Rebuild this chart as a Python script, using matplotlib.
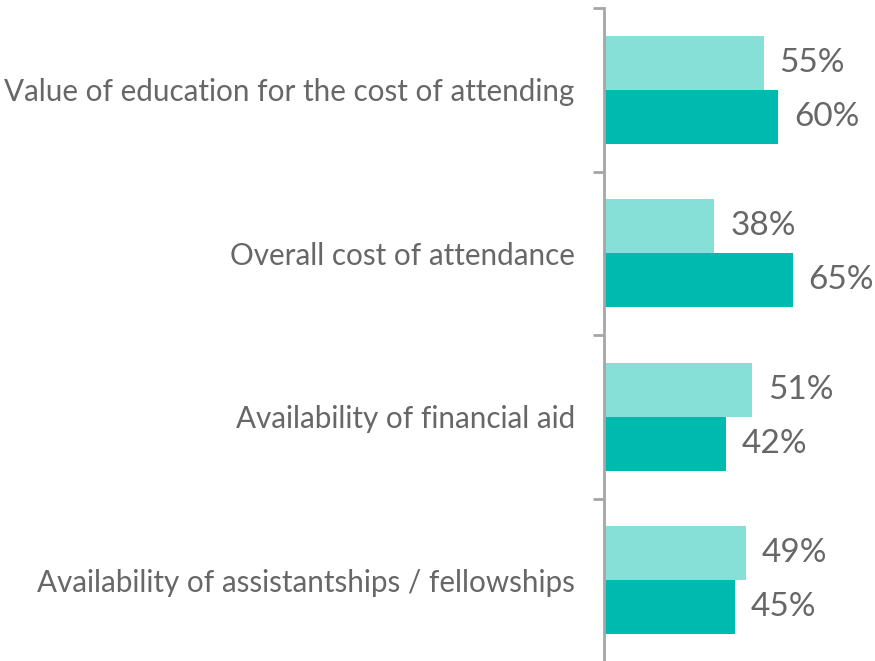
import numpy as np
import matplotlib.pyplot as plt

categories = [
    "Value of education for the cost of attending",
    "Overall cost of attendance",
    "Availability of financial aid",
    "Availability of assistantships / fellowships",
]
series_light = [55, 38, 51, 49]
series_dark = [60, 65, 42, 45]

light_color = "#86E0D8"
dark_color = "#00BAB0"
text_color = "#676767"
axis_color = "#A6A6A6"

plt.rcParams['font.family'] = ['Lato', 'DejaVu Sans']

fig = plt.figure(figsize=(8.75, 6.61), dpi=100)
ax = fig.add_axes([604 / 875, -1 / 661, 1 - 604 / 875, 654 / 661])

n = len(categories)
y = np.arange(n)
h = 0.33

ax.barh(y - h / 2, series_light, height=h, color=light_color, edgecolor="none")
ax.barh(y + h / 2, series_dark, height=h, color=dark_color, edgecolor="none")

for yi, v in zip(y - h / 2, series_light):
    ax.text(v + 5.5, yi, f"{v}%", va="center", ha="left", fontsize=24, color=text_color)
for yi, v in zip(y + h / 2, series_dark):
    ax.text(v + 5.5, yi, f"{v}%", va="center", ha="left", fontsize=24, color=text_color)

ax.set_xlim(0, 93.4)
ax.set_ylim(n - 0.5, -0.5)

# category labels sit between boundary ticks
ax.set_yticks(y)
ax.set_yticklabels(categories, fontsize=21.3, color=text_color)
ax.tick_params(axis="y", length=0, pad=21)
ax.set_yticks(np.arange(n + 1) - 0.5, minor=True)
ax.tick_params(axis="y", which="minor", length=8, width=2, color=axis_color)

ax.set_xticks([])
for s in ["top", "right", "bottom"]:
    ax.spines[s].set_visible(False)
ax.spines["left"].set_color(axis_color)
ax.spines["left"].set_linewidth(2)

fig.savefig("out.png", dpi=100)
